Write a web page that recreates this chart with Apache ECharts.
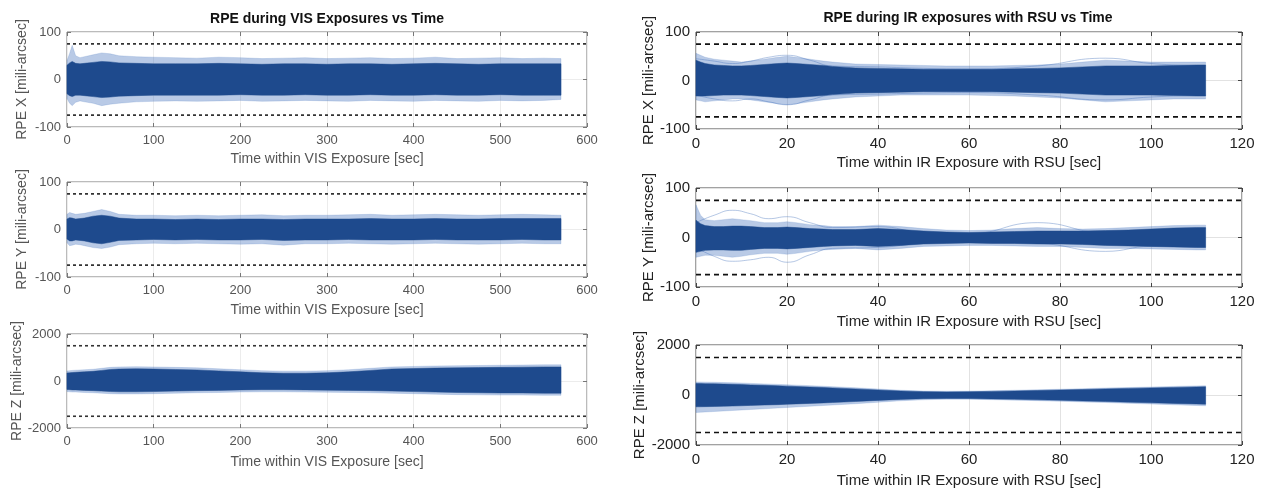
<!DOCTYPE html>
<html><head><meta charset="utf-8">
<script src="https://cdn.jsdelivr.net/npm/echarts@6/dist/echarts.min.js"></script>
<style>html,body{margin:0;padding:0;background:#fff}#c{width:1263px;height:492px}</style>
</head><body><div id="c"></div>
<script>
// ---------- data ----------
const visT = [0, 3, 6, 10, 15, 20, 30, 40, 50, 60, 80, 100, 125, 150, 175, 200, 225, 250, 275, 300, 325, 350, 375, 400, 425, 450, 475, 500, 525, 550, 570];
const irT  = [0, 1, 2, 4, 6, 8, 10, 12, 15, 18, 20, 22, 25, 28, 30, 35, 40, 45, 50, 55, 60, 65, 70, 75, 80, 85, 90, 95, 100, 105, 110, 112];
const outT = [0, 4, 8, 12, 16, 20, 25, 30, 40, 50, 60, 75, 90, 100, 112];

// VIS X envelope
const visXOuterHi = [40, 55, 72, 50, 46, 48, 52, 56, 54, 50, 48, 47, 46, 45, 47, 46, 44, 45, 46, 44, 45, 46, 44, 45, 47, 44, 45, 46, 44, 45, 44];
const visXOuterLo = [-40, -50, -55, -48, -45, -47, -50, -55, -52, -50, -47, -46, -45, -46, -45, -44, -46, -45, -44, -45, -46, -44, -45, -46, -44, -45, -46, -44, -45, -44, -42];
const visXInnerHi = [30, 35, 38, 34, 33, 34, 36, 38, 37, 35, 34, 33, 33, 33, 34, 33, 32, 33, 33, 32, 33, 33, 32, 33, 34, 33, 32, 33, 33, 33, 33];
const visXInnerLo = [-30, -34, -36, -33, -33, -34, -36, -38, -37, -35, -34, -33, -33, -33, -33, -32, -33, -33, -32, -33, -33, -32, -33, -33, -32, -33, -33, -32, -33, -33, -33];
// VIS Y envelope
const visYOuterHi = [32, 36, 34, 32, 33, 34, 38, 42, 38, 32, 30, 30, 29, 30, 29, 30, 31, 29, 30, 30, 31, 32, 30, 31, 32, 31, 30, 31, 32, 31, 30];
const visYOuterLo = [-28, -34, -33, -31, -32, -34, -38, -40, -37, -32, -30, -29, -30, -29, -30, -31, -30, -33, -30, -30, -29, -30, -31, -30, -29, -30, -31, -30, -29, -30, -30];
const visYInnerHi = [22, 25, 24, 22, 23, 24, 28, 30, 28, 24, 22, 22, 21, 22, 21, 22, 22, 21, 22, 22, 22, 23, 22, 22, 23, 22, 22, 23, 23, 23, 23];
const visYInnerLo = [-20, -24, -24, -22, -23, -24, -28, -30, -27, -23, -22, -21, -22, -21, -22, -22, -21, -23, -22, -22, -21, -22, -22, -22, -21, -22, -22, -22, -21, -22, -22];
// VIS Z envelope
const visZOuterHi = [430, 440, 450, 460, 470, 480, 500, 540, 580, 600, 610, 600, 580, 560, 520, 480, 440, 420, 420, 440, 480, 540, 600, 620, 640, 650, 660, 670, 680, 690, 690];
const visZOuterLo = [-450, -460, -470, -470, -480, -490, -500, -520, -540, -550, -550, -540, -520, -500, -490, -470, -460, -460, -470, -480, -490, -500, -520, -540, -560, -580, -590, -600, -600, -610, -610];
const visZInnerHi = [340, 350, 360, 370, 380, 390, 410, 450, 490, 510, 520, 510, 490, 470, 430, 390, 350, 330, 330, 350, 390, 450, 510, 530, 550, 560, 570, 580, 590, 600, 600];
const visZInnerLo = [-360, -370, -380, -380, -390, -400, -410, -430, -450, -460, -460, -450, -430, -410, -400, -380, -370, -370, -380, -390, -400, -410, -430, -450, -470, -490, -500, -510, -510, -520, -520];
// IR X envelope
const irXOuterHi = [56, 52, 48, 44, 42, 40, 38, 40, 44, 48, 50, 48, 44, 40, 38, 34, 33, 32, 31, 30, 30, 30, 31, 32, 34, 38, 42, 40, 38, 38, 38, 38];
const irXOuterLo = [-40, -42, -44, -42, -40, -38, -38, -40, -44, -48, -50, -48, -44, -40, -38, -34, -32, -30, -30, -30, -30, -31, -32, -34, -36, -40, -44, -42, -40, -38, -38, -38];
const irXInnerHi = [42, 38, 35, 32, 31, 30, 30, 31, 33, 35, 36, 35, 33, 31, 29, 26, 25, 24, 23, 23, 23, 23, 24, 25, 26, 28, 30, 30, 30, 31, 32, 32];
const irXInnerLo = [-32, -32, -32, -31, -30, -30, -30, -31, -33, -35, -36, -35, -33, -31, -29, -26, -25, -24, -23, -23, -23, -23, -24, -25, -26, -28, -30, -30, -30, -31, -32, -32];
const irXTraceA = [45, 40, 35, 40, 48, 52, 42, 30, 28, 25, 24, 30, 46, 35, 30];
const irXTraceB = [-30, -38, -42, -38, -44, -50, -40, -30, -28, -26, -25, -30, -40, -34, -30];
// IR Y envelope
const irYOuterHi = [66, 45, 36, 34, 36, 38, 36, 34, 30, 30, 32, 30, 26, 24, 22, 22, 25, 22, 18, 15, 14, 15, 18, 20, 18, 17, 18, 20, 22, 24, 25, 25];
const irYOuterLo = [-40, -38, -36, -36, -38, -40, -38, -35, -32, -32, -34, -32, -28, -25, -24, -22, -25, -22, -18, -17, -16, -16, -17, -18, -18, -20, -22, -22, -23, -24, -25, -25];
const irYInnerHi = [35, 28, 24, 22, 22, 23, 23, 22, 20, 20, 21, 20, 18, 17, 16, 16, 18, 16, 13, 11, 10, 11, 12, 13, 13, 13, 14, 15, 17, 19, 20, 20];
const irYInnerLo = [-30, -28, -26, -25, -25, -26, -26, -24, -22, -22, -23, -22, -20, -18, -17, -16, -18, -16, -13, -12, -11, -12, -12, -13, -13, -14, -16, -17, -18, -19, -20, -20];
const irYTraceA = [30, 45, 55, 48, 38, 42, 30, 20, 22, 10, 8, 30, 10, 15, 18];
const irYTraceB = [-20, -38, -48, -45, -40, -50, -35, -22, -20, -12, -10, -12, -28, -18, -20];
// IR Z envelope
const irZOuterHi = [520, 520, 515, 510, 500, 490, 480, 465, 445, 425, 410, 395, 375, 350, 335, 290, 240, 190, 160, 150, 155, 170, 190, 210, 230, 255, 280, 300, 320, 345, 365, 370];
const irZOuterLo = [-700, -690, -680, -660, -640, -620, -600, -580, -550, -520, -500, -480, -450, -420, -400, -350, -290, -230, -190, -170, -170, -185, -205, -225, -250, -275, -300, -330, -360, -390, -420, -430];
const irZInnerHi = [460, 460, 455, 450, 440, 430, 420, 405, 390, 370, 355, 340, 320, 300, 285, 245, 200, 160, 135, 125, 130, 145, 160, 180, 200, 220, 245, 265, 285, 305, 325, 330];
const irZInnerLo = [-470, -470, -465, -460, -450, -440, -430, -415, -400, -385, -370, -355, -335, -315, -300, -260, -215, -175, -145, -135, -140, -155, -170, -190, -210, -235, -260, -285, -310, -335, -360, -370];

const limitXY = 75;
const limitZ = 1500;
const visXRange = [0, 600, 100];
const irXRange = [0, 120, 20];
const xyRange = [-100, 100, 100];
const zRange = [-2000, 2000, 2000];

const titleVIS = 'RPE during VIS Exposures vs Time';
const titleIR = 'RPE during IR exposures with RSU vs Time';
const xNameVIS = 'Time within VIS Exposure [sec]';
const xNameIR = 'Time within IR Exposure with RSU [sec]';
const yNames = ['RPE X [mili-arcsec]', 'RPE Y [mili-arcsec]', 'RPE Z [mili-arcsec]'];

// ---------- layout / style ----------
const styleL = {tick: 13, name: 14, color: '#555', border: '#777', split: '#ececec', dash: '#333', dashType: [3, 3]};
const styleR = {tick: 15, name: 15, color: '#222', border: '#444', split: '#e2e2e2', dash: '#111', dashType: [5, 4]};

const panels = [
  {g: {left: 67, top: 32, width: 520, height: 95}, xr: visXRange, yr: xyRange, t: visT, o: [visXOuterLo, visXOuterHi], i: [visXInnerLo, visXInnerHi], lim: limitXY, xn: xNameVIS, yn: yNames[0], s: styleL, gap: 25},
  {g: {left: 67, top: 182, width: 520, height: 95}, xr: visXRange, yr: xyRange, t: visT, o: [visYOuterLo, visYOuterHi], i: [visYInnerLo, visYInnerHi], lim: limitXY, xn: xNameVIS, yn: yNames[1], s: styleL, gap: 26},
  {g: {left: 67, top: 334, width: 520, height: 94}, xr: visXRange, yr: zRange, t: visT, o: [visZOuterLo, visZOuterHi], i: [visZInnerLo, visZInnerHi], lim: limitZ, xn: xNameVIS, yn: yNames[2], s: styleL, gap: 27},
  {g: {left: 696, top: 32, width: 546, height: 97}, xr: irXRange, yr: xyRange, t: irT, o: [irXOuterLo, irXOuterHi], i: [irXInnerLo, irXInnerHi], tr: [irXTraceA, irXTraceB], lim: limitXY, xn: xNameIR, yn: yNames[0], s: styleR, gap: 26},
  {g: {left: 696, top: 188, width: 546, height: 99}, xr: irXRange, yr: xyRange, t: irT, o: [irYOuterLo, irYOuterHi], i: [irYInnerLo, irYInnerHi], tr: [irYTraceA, irYTraceB], lim: limitXY, xn: xNameIR, yn: yNames[1], s: styleR, gap: 27},
  {g: {left: 696, top: 345, width: 546, height: 100}, xr: irXRange, yr: zRange, t: irT, o: [irZOuterLo, irZOuterHi], i: [irZInnerLo, irZInnerHi], lim: limitZ, xn: xNameIR, yn: yNames[2], s: styleR, gap: 28}
];

const FONT = 'Liberation Sans, Arial, Helvetica, sans-serif';
const grid = [], xAxis = [], yAxis = [], series = [];
const plain = (v) => String(v);

function bandRenderer(color) {
  return function (params, api) {
    if (params.dataIndex !== 0) return null;
    const n = params.dataInsideLength || 0;
    const data = params.context.__band;
    const lower = [], upper = [];
    for (let j = 0; j < data.length; j++) {
      lower.push(api.coord([data[j][0], data[j][1]]));
      upper.push(api.coord([data[j][0], data[j][2]]));
    }
    const pts = lower.concat(upper.reverse());
    return {type: 'polygon', shape: {points: pts}, style: {fill: color, stroke: color, lineWidth: 0.5}};
  };
}

panels.forEach((p, k) => {
  const s = p.s;
  grid.push(Object.assign({show: true, borderColor: s.border, borderWidth: 1, backgroundColor: '#fff', containLabel: false}, p.g));
  const tickStyle = {show: true, inside: true, length: 4, lineStyle: {color: s.border}};
  xAxis.push({type: 'value', gridIndex: k, min: p.xr[0], max: p.xr[1], interval: p.xr[2], position: 'bottom',
    axisLine: {show: false, onZero: false}, axisTick: tickStyle,
    axisLabel: {show: true, color: s.color, fontSize: s.tick, fontFamily: FONT, margin: 7, formatter: plain},
    splitLine: {show: true, lineStyle: {color: s.split, width: 1}},
    name: p.xn, nameLocation: 'middle', nameGap: p.gap, nameTextStyle: {color: s.color, fontSize: s.name, fontFamily: FONT}});
  xAxis.push({type: 'value', gridIndex: k, min: p.xr[0], max: p.xr[1], interval: p.xr[2], position: 'top',
    axisLine: {show: false, onZero: false}, axisTick: tickStyle, axisLabel: {show: false}, splitLine: {show: false}});
  yAxis.push({type: 'value', gridIndex: k, min: p.yr[0], max: p.yr[1], interval: p.yr[2], position: 'left',
    axisLine: {show: false, onZero: false}, axisTick: tickStyle,
    axisLabel: {show: true, color: s.color, fontSize: s.tick, fontFamily: FONT, margin: 6, formatter: plain},
    splitLine: {show: true, lineStyle: {color: s.split, width: 1}},
    name: p.yn, nameLocation: 'middle', nameGap: 38, nameRotate: 90, nameTextStyle: {color: s.color, fontSize: s.name, fontFamily: FONT}});
  yAxis.push({type: 'value', gridIndex: k, min: p.yr[0], max: p.yr[1], interval: p.yr[2], position: 'right',
    axisLine: {show: false, onZero: false}, axisTick: tickStyle, axisLabel: {show: false}, splitLine: {show: false}});

  const xi = 2 * k, yi = 2 * k;
  // faint individual traces
  (p.tr || []).forEach((tr) => {
    series.push({type: 'line', xAxisIndex: xi, yAxisIndex: yi, smooth: true, showSymbol: false, symbol: 'none', z: 2,
      lineStyle: {color: 'rgba(90,130,195,0.45)', width: 1}, data: outT.map((t, j) => [t, tr[j]])});
  });
  // bands: outer haze and dark core
  [[p.o, 'rgba(70,115,190,0.38)', 3], [p.i, '#1e4a8d', 4]].forEach(([band, col, z]) => {
    const rows = p.t.map((t, j) => [t, band[0][j], band[1][j]]);
    const r = bandRenderer(col);
    series.push({type: 'custom', xAxisIndex: xi, yAxisIndex: yi, z: z, silent: true,
      encode: {x: 0, y: [1, 2]},
      renderItem: function (params, api) { params.context.__band = rows; return r(params, api); },
      data: rows});
  });
  // dashed limit lines
  [p.lim, -p.lim].forEach((v) => {
    series.push({type: 'line', xAxisIndex: xi, yAxisIndex: yi, showSymbol: false, symbol: 'none', z: 6,
      lineStyle: {color: s.dash, width: 1.6, type: s.dashType}, data: [[p.xr[0], v], [p.xr[1], v]]});
  });
});

const chart = echarts.init(document.getElementById('c'), null, {renderer: 'canvas'});
chart.setOption({
  animation: false,
  backgroundColor: '#fff',
  grid, xAxis, yAxis, series,
  graphic: [
    {type: 'text', x: 327, y: 19, style: {text: titleVIS, fill: '#111', font: 'bold 14px ' + FONT, textAlign: 'center', textVerticalAlign: 'middle'}},
    {type: 'text', x: 968, y: 18, style: {text: titleIR, fill: '#111', font: 'bold 14px ' + FONT, textAlign: 'center', textVerticalAlign: 'middle'}}
  ]
});
</script></body></html>
